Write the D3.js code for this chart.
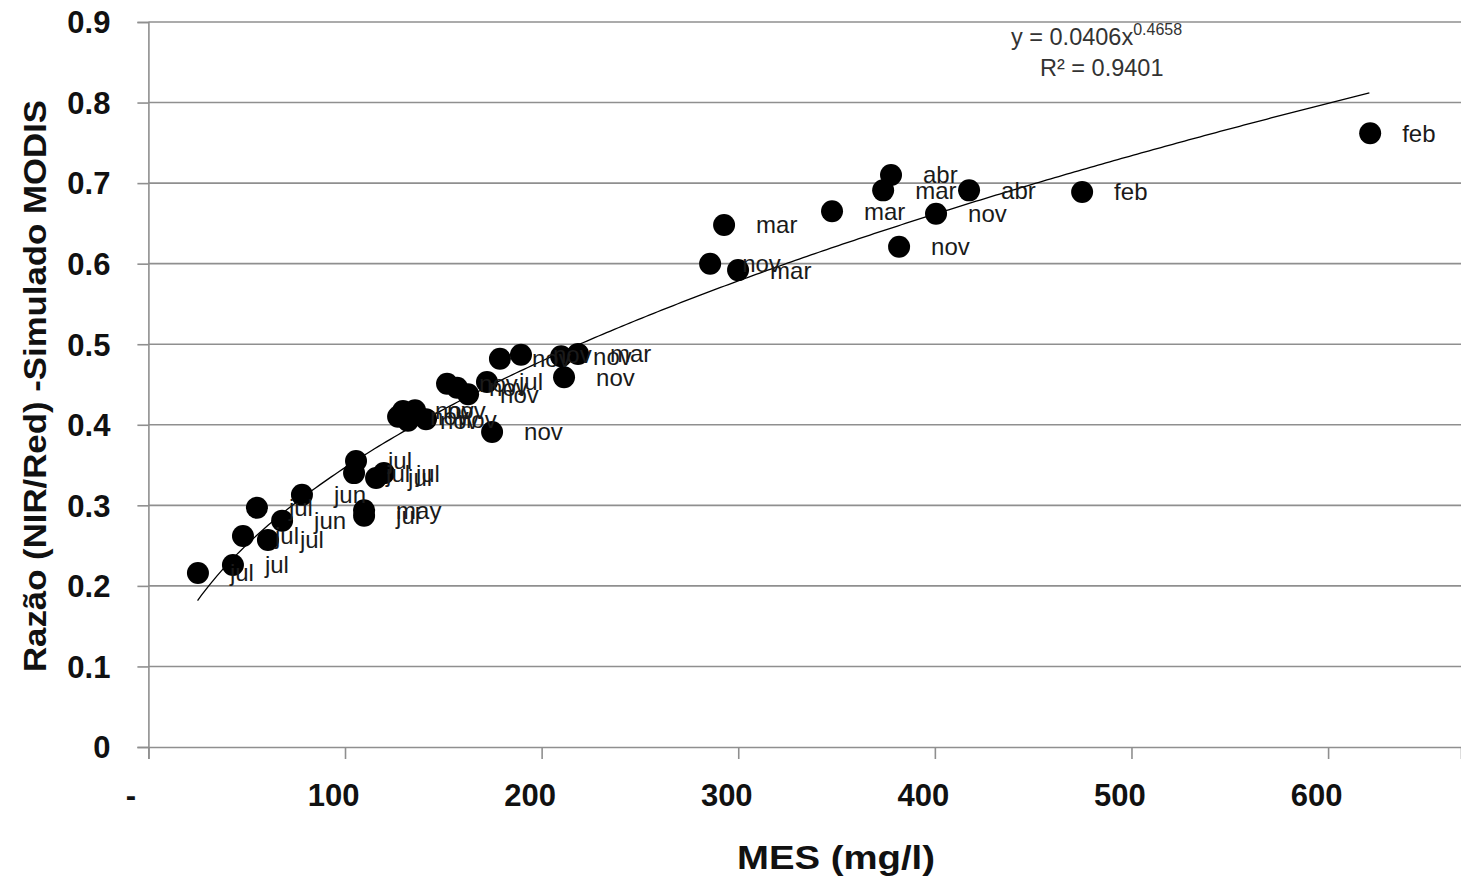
<!DOCTYPE html>
<html>
<head>
<meta charset="utf-8">
<script src="https://cdn.jsdelivr.net/npm/d3@7"></script>
<style>
html,body{margin:0;padding:0;background:#fff;}
svg{display:block;}
</style>
</head>
<body>
<svg id="chart" width="1461" height="876"></svg>
<script>
// ---- data ----
const months = ["feb","feb","abr","mar","abr","mar","nov","mar","nov","nov","mar",
  "nov","nov","nov","mar","nov","nov","nov","nov","jul",
  "nov","nov","nov","nov","nov","nov",
  "jul","jul","jul","jul","jun","may","jul","jul","jun","jul","jul","jul","jul"];
const mes = [621.4,474.9,377.7,373.7,417.4,347.7,400.6,292.8,381.8,285.7,299.9,
  178.8,189.5,209.9,218.5,211.4,151.9,157.0,162.6,172.2,
  127.0,129.5,132.0,135.6,141.2,174.8,
  105.6,104.6,115.8,119.8,78.1,109.7,109.7,55.2,68.0,48.1,60.8,43.0,25.2];
const ratio = [0.762,0.689,0.710,0.691,0.691,0.665,0.662,0.648,0.621,0.600,0.592,
  0.482,0.487,0.485,0.488,0.459,0.451,0.446,0.438,0.453,
  0.410,0.417,0.405,0.418,0.407,0.391,
  0.355,0.340,0.334,0.340,0.313,0.294,0.287,0.297,0.281,0.262,0.257,0.226,0.216];
const xTicks = [0,100,200,300,400,500,600];
const xTickLabels = ["-","100","200","300","400","500","600"];
const yTicks = [0,0.1,0.2,0.3,0.4,0.5,0.6,0.7,0.8,0.9];
const yTickLabels = ["0","0.1","0.2","0.3","0.4","0.5","0.6","0.7","0.8","0.9"];
// power trendline shown on the chart: y = a x^b
const trendA = 0.0406, trendB = 0.4658, trendRange = [25, 622];
const eqText = "y = 0.0406x", eqExp = "0.4658", r2Text = "R² = 0.9401";

// ---- layout ----
const svg = d3.select("#chart");
const pLeft = 148.4, pRight = 1461, pTop = 22, pBottom = 747;
const x = d3.scaleLinear().domain([0, 667.6]).range([pLeft, pRight]);
const y = d3.scaleLinear().domain([0, 0.9]).range([pBottom, pTop]);
const font = "'Liberation Sans', Arial, sans-serif";

// gridlines
svg.append("g").selectAll("line").data(yTicks.filter(d => d > 0)).join("line")
  .attr("x1", pLeft).attr("x2", pRight)
  .attr("y1", d => y(d)).attr("y2", d => y(d))
  .attr("stroke", "#8f8f8f").attr("stroke-width", 1.6);

// y axis
const yAxis = svg.append("g").attr("transform", `translate(${pLeft},0)`)
  .call(d3.axisLeft(y).tickValues(yTicks).tickSize(11).tickFormat((d,i) => yTickLabels[i]));
yAxis.select(".domain").attr("stroke", "#8f8f8f").attr("stroke-width", 1.6);
yAxis.selectAll(".tick line").attr("stroke", "#8f8f8f").attr("stroke-width", 1.6);
yAxis.selectAll(".tick text").attr("x", -38).attr("dy", "0.35em")
  .style("font-family", font).style("font-weight", "bold").style("font-size", "31px").attr("fill", "#111");

// x axis
const xAxis = svg.append("g").attr("transform", `translate(0,${pBottom})`)
  .call(d3.axisBottom(x).tickValues(xTicks).tickSize(12).tickFormat((d,i) => xTickLabels[i]));
xAxis.select(".domain").attr("stroke", "#8f8f8f").attr("stroke-width", 1.6);
xAxis.selectAll(".tick line").attr("stroke", "#8f8f8f").attr("stroke-width", 1.6);
xAxis.selectAll(".tick text").attr("y", 59).attr("dy", "0")
  .attr("x", d => d === 0 ? -18 : -12)
  .style("font-family", font).style("font-weight", "bold").style("font-size", "31px").attr("fill", "#111");

// trendline
const trendPts = d3.range(trendRange[0], trendRange[1] + 0.5, 2).map(v => [v, trendA * Math.pow(v, trendB)]);
svg.append("path").datum(trendPts)
  .attr("d", d3.line().x(d => x(d[0])).y(d => y(d[1])))
  .attr("fill", "none").attr("stroke", "#000").attr("stroke-width", 1.3);

// points
const pts = mes.map((v, i) => ({x: v, y: ratio[i], m: months[i]}));
svg.append("g").selectAll("circle").data(pts).join("circle")
  .attr("cx", d => x(d.x)).attr("cy", d => y(d.y)).attr("r", 11).attr("fill", "#000");

// labels
svg.append("g").selectAll("text").data(pts).join("text")
  .attr("x", d => x(d.x) + 32).attr("y", d => y(d.y)).attr("dy", "0.35em")
  .style("font-family", font).style("font-size", "24px").attr("fill", "#1a1a1a")
  .text(d => d.m);

// equation
const eq = svg.append("text").attr("x", 1011).attr("y", 45)
  .style("font-family", font).style("font-size", "23.5px").attr("fill", "#333");
eq.append("tspan").text(eqText);
eq.append("tspan").attr("dy", -10).style("font-size", "16px").text(eqExp);
svg.append("text").attr("x", 1040).attr("y", 76)
  .style("font-family", font).style("font-size", "23.5px").attr("fill", "#333").text(r2Text);

// axis titles
svg.append("text").attr("x", 836).attr("y", 869).attr("text-anchor", "middle")
  .attr("textLength", 198).attr("lengthAdjust", "spacingAndGlyphs")
  .style("font-family", font).style("font-weight", "bold").style("font-size", "33px").attr("fill", "#111")
  .text("MES (mg/l)");
svg.append("text").attr("transform", "translate(46,386) rotate(-90)").attr("text-anchor", "middle")
  .attr("textLength", 572).attr("lengthAdjust", "spacingAndGlyphs")
  .style("font-family", font).style("font-weight", "bold").style("font-size", "32px").attr("fill", "#111")
  .text("Razão (NIR/Red) -Simulado MODIS");
</script>
</body>
</html>
